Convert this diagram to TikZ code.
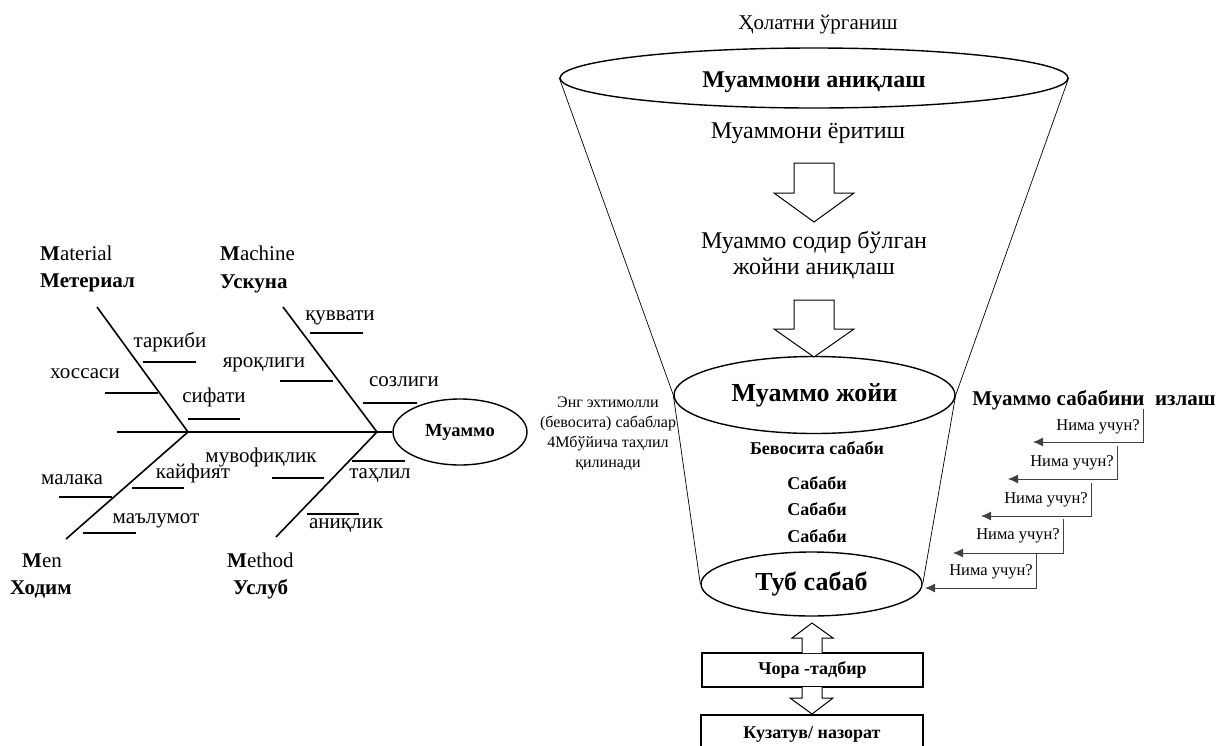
\documentclass[tikz,border=0pt]{standalone}
\usepackage{fontspec}
\setmainfont{Liberation Serif}
\usetikzlibrary{shapes.geometric,arrows.meta}
\begin{document}
\begin{tikzpicture}[x=1pt,y=-1pt,
  lbl/.style={font=\fontsize{21}{25}\selectfont, inner sep=0, text height=14pt, text depth=5pt},
  why/.style={font=\fontsize{16.5}{19}\selectfont, inner sep=0, anchor=east, text height=11pt, text depth=4pt},
  spine/.style={line width=2.6pt},
  bone/.style={line width=1.6pt},
  rib/.style={line width=1.2pt},
  oval/.style={draw, ellipse, line width=1.4pt, inner sep=0},
  side/.style={line width=0.7pt},
  blk/.style={draw, line width=1pt, fill=white, line join=miter},
  box/.style={draw, line width=1.3pt, inner sep=0, font=\bfseries\fontsize{18}{21}\selectfont},
  stair/.style={draw=black!75, line width=1pt},
  whyarr/.style={stair, -{Latex[length=10pt,width=9pt]}}
]
\useasboundingbox (0,0) rectangle (1221,745);
\clip (0,0) rectangle (1221,745);

% ---------------- Fishbone ----------------
\node[oval, minimum width=134, minimum height=66, font=\bfseries\fontsize{18.5}{21}\selectfont] (prob) at (460,432) {Муаммо};
\coordinate (sp0) at (117,432);
\coordinate (jA) at (188,432);
\coordinate (jB) at (377,432);
\coordinate (matT) at (97,307);
\coordinate (macT) at (283,307);
\coordinate (menB) at (66,539);
\coordinate (metB) at (276,537);
\draw[spine] (sp0) -- (prob.west);
\draw[bone] (matT) -- (jA) -- (menB);
\draw[bone] (macT) -- (jB) -- (metB);

% ribs
\draw[rib] (143,362) -- (196,362);
\draw[rib] (105,393) -- (158,393);
\draw[rib] (188,419) -- (240,419);
\draw[rib] (310,333) -- (363,333);
\draw[rib] (280,381) -- (333,381);
\draw[rib] (363,403) -- (417,403);
\draw[rib] (272,478) -- (324,478);
\draw[rib] (132,488) -- (184,488);
\draw[rib] (59,497) -- (112,497);
\draw[rib] (83,533) -- (136,533);
\draw[rib] (352,461) -- (405,461);
\draw[rib] (307,514) -- (359,514);

\node[lbl] (t1) at (170,343) {таркиби};
\node[lbl] (t2) at (85,374) {хоссаси};
\node[lbl] (t3) at (214,398) {сифати};
\node[lbl] (t4) at (340,316) {қуввати};
\node[lbl] (t5) at (264,363) {яроқлиги};
\node[lbl] (t6) at (404,382) {созлиги};
\node[lbl] (t7) at (261,458) {мувофиқлик};
\node[lbl] (t8) at (193,474) {кайфият};
\node[lbl] (t9) at (72,480) {малака};
\node[lbl] (t10) at (156,519) {маълумот};
\node[lbl] (t11) at (380,474) {таҳлил};
\node[lbl] (t12) at (346,524) {аниқлик};

\node[lbl, anchor=west] (m1a) at (40,256) {\textbf{M}aterial};
\node[lbl, anchor=west] (m1b) at (40,283) {\textbf{Метериал}};
\node[lbl, anchor=west] (m2a) at (220,256) {\textbf{M}achine};
\node[lbl, anchor=west] (m2b) at (220,284) {\textbf{Ускуна}};
\node[lbl, anchor=west] (m3a) at (22,563) {\textbf{M}en};
\node[lbl, anchor=west] (m3b) at (10,590) {\textbf{Ходим}};
\node[lbl, anchor=west] (m4a) at (227,563) {\textbf{M}ethod};
\node[lbl, anchor=west] (m4b) at (233,590) {\textbf{Услуб}};

% ---------------- Funnel ----------------
\node[lbl] (study) at (818,25) {Ҳолатни ўрганиш};
\node[oval, minimum width=508, minimum height=60] (top) at (814,78) {};
\node[inner sep=0, font=\bfseries\fontsize{24}{28}\selectfont] (topt) at (814,82) {Муаммони аниқлаш};
\node[oval, minimum width=281, minimum height=77, font=\bfseries\fontsize{26}{30}\selectfont] (mid) at (814.5,395) {Муаммо жойи};
\node[oval, minimum width=221, minimum height=64, font=\bfseries\fontsize{26}{30}\selectfont] (tub) at (811.5,584) {Туб сабаб};
\draw[side] (top.west) -- (mid.west) -- (tub.west);
\draw[side] (top.east) -- (mid.east) -- (tub.east);

\node[inner sep=0, font=\fontsize{24}{28}\selectfont] (light) at (808,133) {Муаммони ёритиш};
\draw[blk] (794,163) -- (834,163) -- (834,193) -- (854,193) -- (814,222) -- (774,193) -- (794,193) -- cycle;
\node[inner sep=0, align=center, font=\fontsize{24}{26}\selectfont] (where) at (814,255) {Муаммо содир бўлган\\жойни аниқлаш};
\draw[blk] (794,300) -- (834,300) -- (834,329) -- (854,329) -- (814,357) -- (774,329) -- (794,329) -- cycle;

\node[inner sep=0, align=center, font=\fontsize{16}{20}\selectfont] (prob4m) at (608,434) {Энг эхтимолли\\(бевосита) сабаблар\\4Мбўйича таҳлил\\қилинади};

\node[inner sep=0, font=\bfseries\fontsize{18}{21}\selectfont] (c0) at (817,448) {Бевосита сабаби};
\node[inner sep=0, font=\bfseries\fontsize{18}{21}\selectfont] (c1) at (817,483) {Сабаби};
\node[inner sep=0, font=\bfseries\fontsize{18}{21}\selectfont] (c2) at (817,509) {Сабаби};
\node[inner sep=0, font=\bfseries\fontsize{18}{21}\selectfont] (c3) at (817,536) {Сабаби};

% ---------------- Bottom boxes ----------------
\node[box, minimum width=221, minimum height=34] (chora) at (812.5,670) {Чора -тадбир};
\node[box, minimum width=222, minimum height=40] (kuz) at (812,735) {Кузатув/ назорат};
\draw[blk] (802,653) -- (802,638) -- (792,638) -- (812,623) -- (833,638) -- (822,638) -- (822,653);
\draw[blk] (802,687) -- (802,698) -- (790,698) -- (812,714) -- (833,698) -- (822,698) -- (822,687);

% ---------------- Why staircase ----------------
\node[inner sep=0, font=\bfseries\fontsize{21}{25}\selectfont] (seek) at (1094,400) {Муаммо сабабини\ \ излаш};
\coordinate (s1) at (1143,409);
\coordinate (s2) at (1117,446);
\coordinate (s3) at (1091,483);
\coordinate (s4) at (1063,519);
\coordinate (s5) at (1036,554);
\coordinate (e1) at (1033,442);
\coordinate (e2) at (1008,479);
\coordinate (e3) at (981,516);
\coordinate (e4) at (953,553);
\coordinate (e5) at (925,588);
\draw[whyarr] (s1) |- (e1);
\draw[whyarr] (s2) |- (e2);
\draw[whyarr] (s3) |- (e3);
\draw[whyarr] (s4) |- (e4);
\draw[whyarr] (s5) |- (e5);
\node[why] (w1) at (1140,427) {Нима учун?};
\node[why] (w2) at (1114,463) {Нима учун?};
\node[why] (w3) at (1088,500) {Нима учун?};
\node[why] (w4) at (1060,536) {Нима учун?};
\node[why] (w5) at (1033,572) {Нима учун?};
\end{tikzpicture}
\end{document}
